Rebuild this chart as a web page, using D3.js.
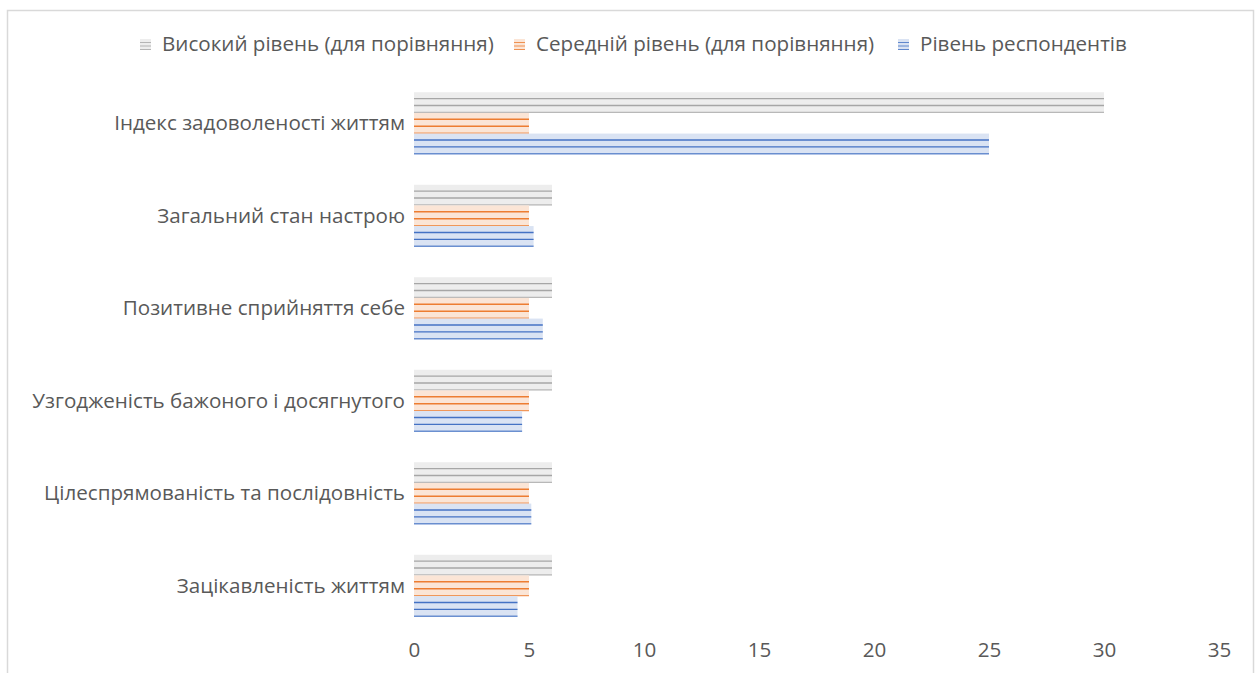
<!DOCTYPE html>
<html>
<head>
<meta charset="utf-8">
<script src="https://cdn.jsdelivr.net/npm/d3@7"></script>
<style>
  html, body { margin: 0; padding: 0; background: #fff; }
  svg { display: block; }
  text { font-family: "Open Sans", "Liberation Sans", Arial, sans-serif; fill: #595959; }
</style>
</head>
<body>
<svg id="chart" width="1260" height="673"></svg>
<script>
const categories = [
  "Індекс задоволеності життям",
  "Загальний стан настрою",
  "Позитивне сприйняття себе",
  "Узгодженість бажоного і досягнутого",
  "Цілеспрямованість та послідовність",
  "Зацікавленість життям"
];
const seriesNames = [
  "Високий рівень (для порівняння)",
  "Середній рівень (для порівняння)",
  "Рівень респондентів"
];
const highValues = [30, 6, 6, 6, 6, 6];
const mediumValues = [5, 5, 5, 5, 5, 5];
const respondentValues = [25, 5.2, 5.6, 4.7, 5.1, 4.5];
const xTicks = [0, 5, 10, 15, 20, 25, 30, 35];

const seriesValues = [highValues, mediumValues, respondentValues];
const fills = ["#ededed", "#fbe5d6", "#dae3f3"];
const strokes = ["#a6a6a6", "#ed7d31", "#4472c4"];

const svg = d3.select("#chart");

// outer border
svg.append("rect").attr("x", 7.5).attr("y", 10.5).attr("width", 1246).attr("height", 680)
  .attr("fill", "#fff").attr("stroke", "#d9d9d9").attr("stroke-width", 1.5);

const plot = { left: 414, right: 1219, top: 77, bottom: 632 };

const x = d3.scaleLinear().domain([0, 35]).range([plot.left, plot.right]);
const y = d3.scaleBand().domain(categories).range([plot.top, plot.bottom]).paddingInner(0.33).paddingOuter(0.165);
const ys = d3.scaleBand().domain(d3.range(seriesNames.length)).range([0, y.bandwidth()]).padding(0);

const fontSize = 20.6;

// bars
const groups = svg.append("g").selectAll("g").data(categories).join("g")
  .attr("transform", d => `translate(0,${y(d)})`);

groups.each(function(cat, ci) {
  const g = d3.select(this);
  seriesValues.forEach((vals, si) => {
    const y0 = ys(si), h = ys.bandwidth();
    const x0 = x(0), x1 = x(vals[ci]);
    g.append("rect").attr("x", x0).attr("y", y0).attr("width", x1 - x0).attr("height", h)
      .attr("fill", fills[si]);
    [1, 2, 3].forEach(k => {
      const ly = y0 + h * k / 3 - 0.5;
      g.append("line").attr("x1", x0).attr("x2", x1).attr("y1", ly).attr("y2", ly)
        .attr("stroke", strokes[si]).attr("stroke-width", 1.4).attr("opacity", k === 3 ? 0.75 : 1);
    });
  });
});

// category labels
svg.append("g").selectAll("text").data(categories).join("text")
  .attr("x", 405).attr("y", d => y(d) + y.bandwidth() / 2)
  .attr("dy", "0.35em").attr("text-anchor", "end").attr("font-size", fontSize)
  .text(d => d);

// x axis
const xAxis = d3.axisBottom(x).tickValues(xTicks).tickSize(0).tickPadding(0);
const ax = svg.append("g").attr("transform", `translate(0,${650})`).call(xAxis);
ax.select(".domain").remove();
ax.selectAll("text").attr("font-size", fontSize).attr("dy", "0.35em")
  .style("font-family", '"Open Sans", "Liberation Sans", Arial, sans-serif').attr("fill", "#595959");

// legend
const legendX = [140, 514, 898];
const leg = svg.append("g").selectAll("g").data(seriesNames).join("g")
  .attr("transform", (d, i) => `translate(${legendX[i]},${44})`);
leg.each(function(name, i) {
  const g = d3.select(this);
  g.append("rect").attr("x", 0).attr("y", -5).attr("width", 11).attr("height", 11).attr("fill", fills[i]);
  [-1.5, 2, 5.5].forEach((o) => g.append("line").attr("x1", 0).attr("x2", 11)
    .attr("y1", o).attr("y2", o).attr("stroke", strokes[i]).attr("stroke-width", 1).attr("opacity", 0.8));
  g.append("text").attr("x", 22).attr("y", 0).attr("dy", "0.35em").attr("font-size", fontSize).text(name);
});
</script>
</body>
</html>
